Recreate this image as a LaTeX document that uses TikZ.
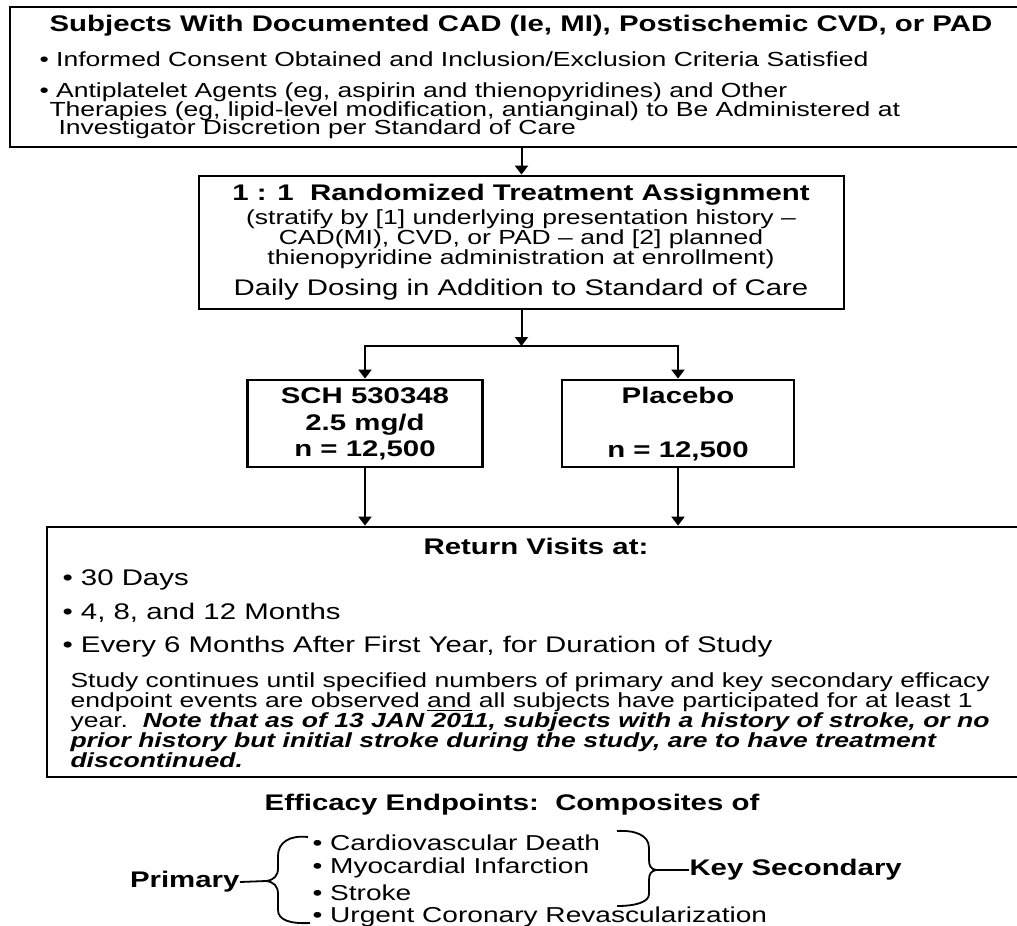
\documentclass[tikz,border=0pt]{standalone}
\usepackage{fontspec}
\setmainfont{Liberation Sans}
\usetikzlibrary{arrows.meta}
\tikzset{
  box/.style={draw, line width=1.4pt, inner sep=0pt},
  txt/.style={inner sep=0pt, xscale=1.3},
  hd/.style={txt, font=\fontsize{11.3}{13.4}\selectfont\bfseries},
  small/.style={txt, font=\fontsize{10.2}{10}\selectfont},
  item/.style={txt, font=\fontsize{11.3}{12}\selectfont},
  epitem/.style={txt, font=\fontsize{10.8}{12}\selectfont},
  link/.style={line width=1pt, -{Triangle[width=6.5pt,length=4.5pt]}},
  curl/.style={line width=0.9pt}
}

\begin{document}
\begin{tikzpicture}[x=0.5pt,y=-0.5pt]
        \useasboundingbox (0,0) rectangle (1017,926);
        % boxes
        \node[box, minimum width=507.5pt, minimum height=70pt] (subj) at (517.5,77) {};
        \node[box, minimum width=322.5pt, minimum height=66.5pt] (assign) at (521.5,242.5) {};
        \node[box, minimum width=117.5pt, minimum height=43.5pt] (drug) at (365,423.5) {};
        \node[box, minimum width=116pt, minimum height=43.5pt] (plac) at (678,423.5) {};
        \node[box, minimum width=489pt, minimum height=125pt] (visits) at (536,652) {};
        % subjects
        \node[hd] (subjhd) at (521,26) {Subjects With Documented CAD (Ie, MI), Postischemic CVD, or PAD};
        \node[small, anchor=west] (consent) at (39,59) {• Informed Consent Obtained and Inclusion/Exclusion Criteria Satisfied};
        \node[small, anchor=west] (agents) at (39,92) {• Antiplatelet Agents (eg, aspirin and thienopyridines) and Other};
        \node[small, anchor=west] (agentsb) at (49,111) {Therapies (eg, lipid-level modification, antianginal) to Be Administered at};
        \node[small, anchor=west] (agentsc) at (58,129) {Investigator Discretion per Standard of Care};
        % randomization
        \node[hd] (assignhd) at (521,195) {1 : 1\ \ Randomized Treatment Assignment};
        \node[small, align=center] (strat) at (521,239) {(stratify by [1] underlying presentation history --\\CAD(MI), CVD, or PAD -- and [2] planned\\thienopyridine administration at enrollment)};
        \node[item] (dosing) at (521,290) {Daily Dosing in Addition to Standard of Care};
        % arms
        \node[hd, align=center] (drugtx) at (365,424) {SCH 530348\\2.5 mg/d\\n = 12,500};
        \node[hd, align=center] (plactx) at (678,424) {Placebo\\~\\n = 12,500};
        % visits
        \node[hd] (visitshd) at (536,546) {Return Visits at:};
        \node[item, anchor=west] (v30) at (62,580) {• 30 Days};
        \node[item, anchor=west] (v12) at (62,613) {• 4, 8, and 12 Months};
        \node[item, anchor=west] (v6) at (62,647) {• Every 6 Months After First Year, for Duration of Study};
        \node[small, anchor=west, align=left] (note) at (70,720) {Study continues until specified numbers of primary and key secondary efficacy\\endpoint events are observed \underline{and} all subjects have participated for at least 1\\year.\ \ \textbf{\textit{Note that as of 13 JAN 2011, subjects with a history of stroke, or no}}\\\textbf{\textit{prior history but initial stroke during the study, are to have treatment}}\\\textbf{\textit{discontinued.}}};
        % endpoints
        \node[hd] (ephd) at (512,805) {Efficacy Endpoints:\ \ Composites of};
        \node[epitem, anchor=west] (cvd) at (312,843) {• Cardiovascular Death};
        \node[epitem, anchor=west] (mi) at (312,868) {• Myocardial Infarction};
        \node[epitem, anchor=west] (stroke) at (312,893) {• Stroke};
        \node[epitem, anchor=west] (ucr) at (312,917) {• Urgent Coronary Revascularization};
        \node[hd, anchor=east] (prim) at (240,882) {Primary};
        \node[hd, anchor=west] (sec) at (689,870) {Key Secondary};
        \coordinate (ltip) at (266,881);
        \coordinate (rtip) at (656,870);
        \coordinate (split) at (521.5,346);
        % connectors
        \draw[link] (assign.north |- subj.south) -- (assign.north);
        \draw[link] (assign.south) -- (split);
        \draw[link] (split) -| (drug.north);
        \draw[link] (split) -| (plac.north);
        \draw[link] (drug.south) -- (drug.south |- visits.north);
        \draw[link] (plac.south) -- (plac.south |- visits.north);
        % braces
        \draw[curl] (308,837) .. controls (290,835) and (278,842) .. (278,856) -- (278,868) .. controls (278,876) and (274,880) .. (ltip) .. controls (274,882) and (278,886) .. (278,894) -- (278,910) .. controls (278,920) and (290,924) .. (310,923);
        \draw[curl] (617,831) .. controls (635,830) and (649,835) .. (649,848) -- (649,860) .. controls (649,866) and (651,869) .. (rtip) .. controls (651,871) and (649,874) .. (649,880) -- (649,894) .. controls (649,902) and (636,906) .. (617,906);
        \draw[curl] (prim.east) -- (ltip);
        \draw[curl] (rtip) -- (sec.west);
\end{tikzpicture}
\end{document}
